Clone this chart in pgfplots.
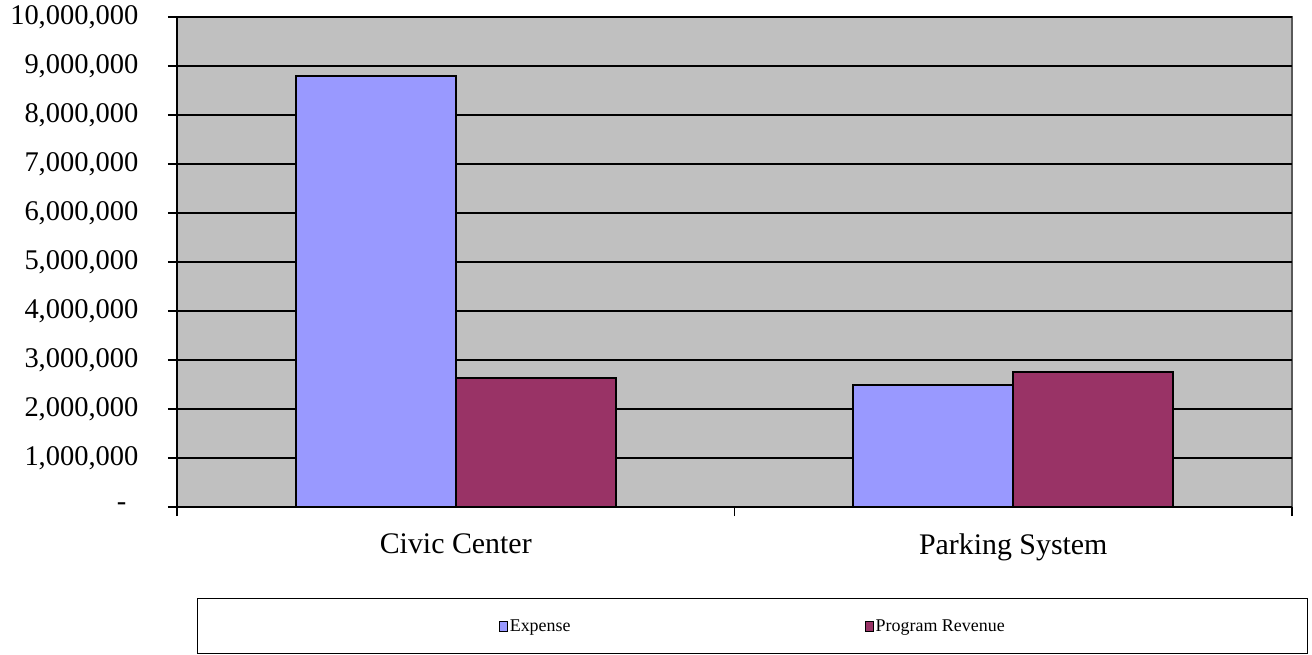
\documentclass[border=0pt]{standalone}
\usepackage{pgfplots}
\pgfplotsset{compat=1.18}
\usepackage{fontspec}
\setmainfont{Liberation Serif}
\definecolor{expc}{HTML}{9999FF}
\definecolor{revc}{HTML}{993366}
\definecolor{bgc}{HTML}{C0C0C0}
\begin{document}
\begin{tikzpicture}
\path[use as bounding box] (-177bp,-148bp) rectangle (1135bp,507bp);
\begin{axis}[
  width=1115bp, height=490bp, scale only axis,
  xmin=-0.5, xmax=1.5, ymin=0, ymax=10000000,
  scaled y ticks=false,
  ybar=0pt, bar width=160bp,
  axis background/.style={fill=bgc, draw=gray!70!black, line width=1.2bp},
  axis x line*=bottom, axis y line*=left,
  axis line style={-, black, line width=1.2bp},
  ytick={0,1000000,2000000,3000000,4000000,5000000,6000000,7000000,8000000,9000000,10000000},
  yticklabels={{-\hspace*{12bp}},{1,000,000},{2,000,000},{3,000,000},{4,000,000},{5,000,000},{6,000,000},{7,000,000},{8,000,000},{9,000,000},{10,000,000}},
  xtick={-0.5,0.5,1.5}, xticklabels={},
  extra x ticks={0,1},
  extra x tick labels={Civic Center, Parking System},
  extra x tick style={major tick length=0pt},
  tick align=outside, major tick length=9bp,
  tick style={black, line width=1.2bp},
  ymajorgrids, major grid style={black, line width=1.2bp},
  yticklabel style={font=\fontsize{28.6}{30}\selectfont, xshift=-26bp},
  xticklabel style={font=\fontsize{30}{32}\selectfont, yshift=-23bp},
  legend columns=2,
  legend style={at={(axis description cs:0.01794,-0.18571)}, anchor=north west,
    draw=black, line width=1.2bp, fill=white,
    font=\fontsize{18}{19}\selectfont,
    inner xsep=301bp, inner ysep=19bp,
    /tikz/every even column/.append style={column sep=292bp}},
  legend image code/.code={\draw[#1, line width=1.2bp] (0bp,-5bp) rectangle (8bp,5bp);},
]
\addplot[fill=expc, draw=black, line width=2bp] coordinates {(0,8790000) (1,2500000)};
\addplot[fill=revc, draw=black, line width=2bp] coordinates {(0,2640000) (1,2750000)};
\legend{Expense, Program Revenue}
\end{axis}
\end{tikzpicture}
\end{document}
